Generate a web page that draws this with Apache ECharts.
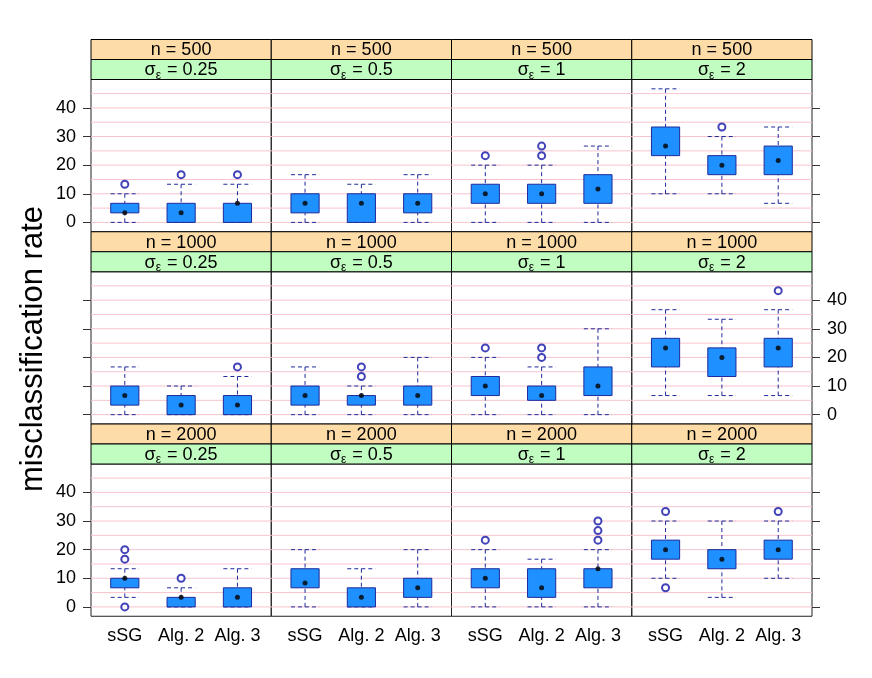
<!DOCTYPE html>
<html>
<head>
<meta charset="utf-8">
<script src="https://cdn.jsdelivr.net/npm/echarts@6/dist/echarts.min.js"></script>
<style>
html, body { margin: 0; background: #fff; }
#chart { width: 872px; height: 678px; }
</style>
</head>
<body>
<div id="chart"></div>
<script>
var methods = ['sSG', 'Alg. 2', 'Alg. 3'];
var sampleSizes = ['500', '1000', '2000'];
var sigmas = ['0.25', '0.5', '1', '2'];
var yTicks = [0, 10, 20, 30, 40];
var refLines = [0, 5, 10, 15, 20, 25, 30, 35, 40, 45];

// [lower whisker, Q1, median, Q3, upper whisker] for sSG, Alg. 2, Alg. 3 -- one block per sigma
var stats500 = [
    [[0, 3.33, 3.33, 6.67, 10], [0, 0, 3.33, 6.67, 13.33], [0, 0, 6.67, 6.67, 13.33]],
    [[0, 3.33, 6.67, 10, 16.67], [0, 0, 6.67, 10, 13.33], [0, 3.33, 6.67, 10, 16.67]],
    [[0, 6.67, 10, 13.33, 20], [0, 6.67, 10, 13.33, 20], [0, 6.67, 11.67, 16.67, 26.67]],
    [[10, 23.33, 26.67, 33.33, 46.67], [10, 16.67, 20, 23.33, 30], [6.67, 16.67, 21.67, 26.67, 33.33]]
];
var outliers500 = [
    [[13.33], [16.67], [16.67]],
    [[], [], []],
    [[23.33], [23.33, 26.67], []],
    [[], [33.33], []]
];
var stats1000 = [
    [[0, 3.33, 6.67, 10, 16.67], [0, 0, 3.33, 6.67, 10], [0, 0, 3.33, 6.67, 13.33]],
    [[0, 3.33, 6.67, 10, 16.67], [0, 3.33, 6.67, 6.67, 10], [0, 3.33, 6.67, 10, 20]],
    [[0, 6.67, 10, 13.33, 20], [0, 5, 6.67, 10, 16.67], [0, 6.67, 10, 16.67, 30]],
    [[6.67, 16.67, 23.33, 26.67, 36.67], [6.67, 13.33, 20, 23.33, 33.33], [6.67, 16.67, 23.33, 26.67, 36.67]]
];
var outliers1000 = [
    [[], [], [16.67]],
    [[], [13.33, 16.67], []],
    [[23.33], [20, 23.33], []],
    [[], [], [43.33]]
];
var stats2000 = [
    [[3.33, 6.67, 10, 10, 13.33], [0, 0, 3.33, 3.33, 6.67], [0, 0, 3.33, 6.67, 13.33]],
    [[0, 6.67, 8.33, 13.33, 20], [0, 0, 3.33, 6.67, 13.33], [0, 3.33, 6.67, 10, 20]],
    [[0, 6.67, 10, 13.33, 20], [0, 3.33, 6.67, 13.33, 16.67], [0, 6.67, 13.33, 13.33, 20]],
    [[10, 16.67, 20, 23.33, 30], [3.33, 13.33, 16.67, 20, 30], [10, 16.67, 20, 23.33, 30]]
];
var outliers2000 = [
    [[0, 16.67, 20], [10], []],
    [[], [], []],
    [[23.33], [], [23.33, 26.67, 30]],
    [[6.67, 33.33], [], [33.33]]
];

var statsByN = [stats500, stats1000, stats2000];
var outliersByN = [outliers500, outliers1000, outliers2000];

// layout (lattice-like)
var font = '"Liberation Sans", Arial, sans-serif';
var left0 = 91, panelW = 180.25, panelH = 152.25, stripH = 20;
var rowTop = [39.5, 231.75, 424];
var xMin = 0.4, xMax = 3.6, yMin = -3.27, yMax = 49.93;
var boxFill = '#1e90ff', boxLine = '#1f2a9a', dotCol = '#1414a8';

function renderBox(params, api) {
    var x = api.value(0);
    var lo = api.value(1), q1 = api.value(2), q3 = api.value(4), hi = api.value(5);
    var half = 0.25;
    var a = api.coord([x - half, q3]);
    var b = api.coord([x + half, q1]);
    var cTop = api.coord([x, hi]);
    var cLo = api.coord([x, lo]);
    var dash = { stroke: boxLine, lineWidth: 1, lineDash: [4, 3] };
    return {
        type: 'group',
        children: [
            { type: 'line', shape: { x1: cTop[0], y1: cTop[1], x2: cTop[0], y2: a[1] }, style: dash },
            { type: 'line', shape: { x1: cLo[0], y1: cLo[1], x2: cLo[0], y2: b[1] }, style: dash },
            { type: 'line', shape: { x1: a[0], y1: cTop[1], x2: b[0], y2: cTop[1] }, style: dash },
            { type: 'line', shape: { x1: a[0], y1: cLo[1], x2: b[0], y2: cLo[1] }, style: dash },
            { type: 'rect', shape: { x: a[0], y: a[1], width: b[0] - a[0], height: b[1] - a[1] },
              style: { fill: boxFill, stroke: boxLine, lineWidth: 1 } }
        ]
    };
}

function renderRef(params, api) {
    var y = api.coord([2, api.value(1)])[1];
    var cs = params.coordSys;
    return {
        type: 'line',
        shape: { x1: cs.x, y1: y, x2: cs.x + cs.width, y2: y },
        style: { stroke: '#f7c4cd', lineWidth: 1 }
    };
}

var grids = [], xAxes = [], yAxes = [], series = [], graphics = [];

for (var r = 0; r < 3; r++) {
    for (var c = 0; c < 4; c++) {
        var i = r * 4 + c;
        var gx = left0 + c * panelW;
        var gy = rowTop[r] + 2 * stripH;
        grids.push({
            left: gx, top: gy, width: panelW, height: panelH,
            show: true, borderColor: '#222', borderWidth: 1, backgroundColor: 'transparent'
        });
        xAxes.push({
            gridIndex: i, type: 'value', min: xMin, max: xMax,
            show: r === 2,
            axisLine: { show: false }, axisTick: { show: false }, splitLine: { show: false },
            axisLabel: {
                customValues: [1, 2, 3],
                formatter: function (v) { return methods[Math.round(v) - 1]; },
                fontSize: 18, color: '#000', fontFamily: font, margin: 11
            }
        });
        var showLabels = (c === 0 && r !== 1) || (c === 3 && r === 1);
        yAxes.push({
            gridIndex: i, type: 'value', min: yMin, max: yMax,
            position: c === 3 ? 'right' : 'left',
            show: c === 0 || c === 3,
            axisLine: { show: false }, splitLine: { show: false },
            axisTick: { show: true, length: 8, customValues: yTicks, lineStyle: { color: '#333' } },
            axisLabel: {
                show: showLabels, customValues: yTicks,
                fontSize: 18, color: '#000', fontFamily: font, margin: 15
            }
        });

        var st = statsByN[r][c];
        var ol = outliersByN[r][c];
        var outPts = [];
        ol.forEach(function (vals, k) {
            vals.forEach(function (v) { outPts.push([k + 1, v]); });
        });

        series.push({
            type: 'custom', xAxisIndex: i, yAxisIndex: i, z: 1, silent: true,
            renderItem: renderRef,
            data: refLines.map(function (v) { return [2, v]; })
        });
        series.push({
            type: 'custom', xAxisIndex: i, yAxisIndex: i, z: 3, silent: true,
            renderItem: renderBox,
            encode: { x: 0, y: [1, 2, 3, 4, 5] },
            data: st.map(function (s, k) { return [k + 1].concat(s); })
        });
        series.push({
            type: 'scatter', xAxisIndex: i, yAxisIndex: i, z: 4, silent: true,
            symbolSize: 5, itemStyle: { color: '#000' },
            data: st.map(function (s, k) { return [k + 1, s[2]]; })
        });
        series.push({
            type: 'scatter', xAxisIndex: i, yAxisIndex: i, z: 4, silent: true,
            symbol: 'emptyCircle', symbolSize: 7,
            itemStyle: { color: dotCol, borderColor: dotCol, borderWidth: 1.3 },
            data: outPts
        });

        // strips
        graphics.push({
            type: 'rect', silent: true,
            shape: { x: gx, y: rowTop[r], width: panelW, height: stripH },
            style: { fill: '#fedca8', stroke: '#000', lineWidth: 1 }
        });
        graphics.push({
            type: 'rect', silent: true,
            shape: { x: gx, y: rowTop[r] + stripH, width: panelW, height: stripH },
            style: { fill: '#c1fdc1', stroke: '#000', lineWidth: 1 }
        });
        graphics.push({
            type: 'text', silent: true, x: gx + panelW / 2, y: rowTop[r] + stripH / 2 + 1,
            style: {
                text: 'n = ' + sampleSizes[r], fill: '#000',
                font: '18px ' + font, align: 'center', verticalAlign: 'middle'
            }
        });
        graphics.push({
            type: 'text', silent: true, x: gx + panelW / 2, y: rowTop[r] + 1.5 * stripH + 1,
            style: {
                text: '{s|σ}{e|ε}{s| = ' + sigmas[c] + '}', fill: '#000',
                align: 'center', verticalAlign: 'middle',
                rich: {
                    s: { fontSize: 18, fontFamily: font, fill: '#000' },
                    e: { fontSize: 12, fontFamily: font, fill: '#000', padding: [10, 1, 0, 0] }
                }
            }
        });
    }
}

graphics.push({
    type: 'text', silent: true, x: 33, y: 349, rotation: Math.PI / 2,
    style: {
        text: 'misclassification rate', fill: '#000',
        font: '31px ' + font, align: 'center', verticalAlign: 'middle'
    }
});

var option = {
    animation: false,
    backgroundColor: '#fff',
    grid: grids,
    xAxis: xAxes,
    yAxis: yAxes,
    series: series,
    graphic: graphics
};

var myChart = echarts.init(document.getElementById('chart'));
myChart.setOption(option);
</script>
</body>
</html>
